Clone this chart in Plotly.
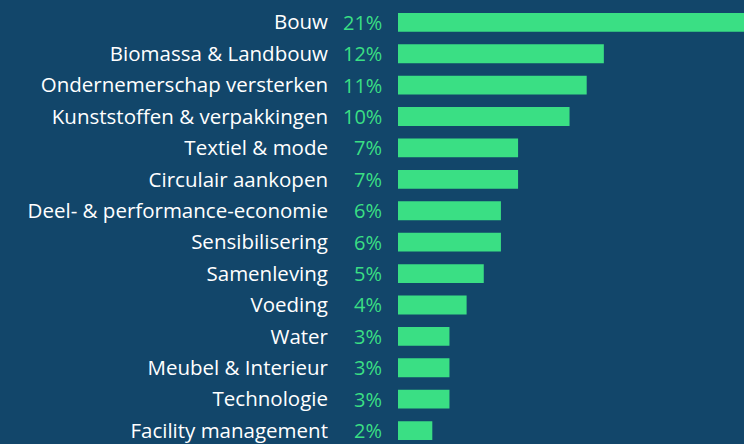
import plotly.graph_objects as go

categories = ["Bouw", "Biomassa & Landbouw", "Ondernemerschap versterken",
              "Kunststoffen & verpakkingen", "Textiel & mode", "Circulair aankopen",
              "Deel- & performance-economie", "Sensibilisering", "Samenleving",
              "Voeding", "Water", "Meubel & Interieur", "Technologie",
              "Facility management"]
values = [21, 12, 11, 10, 7, 7, 6, 6, 5, 4, 3, 3, 3, 2]
pct_labels = [f"{v}%" for v in values]

BG = "#12466A"
GREEN = "#3ADF84"
FONT = "Open Sans"

fig = go.Figure()
fig.add_trace(go.Bar(
    x=values, y=categories, orientation="h",
    marker=dict(color=GREEN, line=dict(width=0)),
    width=0.6, hoverinfo="skip",
))

for c, t in zip(categories, pct_labels):
    fig.add_annotation(x=0, y=c, xref="x", yref="y", text=t, showarrow=False,
                       xanchor="right", yanchor="middle", xshift=-14,
                       font=dict(family=FONT, size=20, color=GREEN))

fig.update_layout(
    width=744, height=444,
    margin=dict(l=398, r=0, t=0, b=0),
    paper_bgcolor=BG, plot_bgcolor=BG,
    showlegend=False,
    xaxis=dict(range=[0, 20.17], visible=False, fixedrange=True),
    yaxis=dict(range=[13.3, -0.71], showgrid=False, zeroline=False, showline=False,
               ticks="", ticklabelstandoff=69,
               tickfont=dict(family=FONT, size=20.5, color="#FFFFFF")),
)

fig.write_html("out.html")
